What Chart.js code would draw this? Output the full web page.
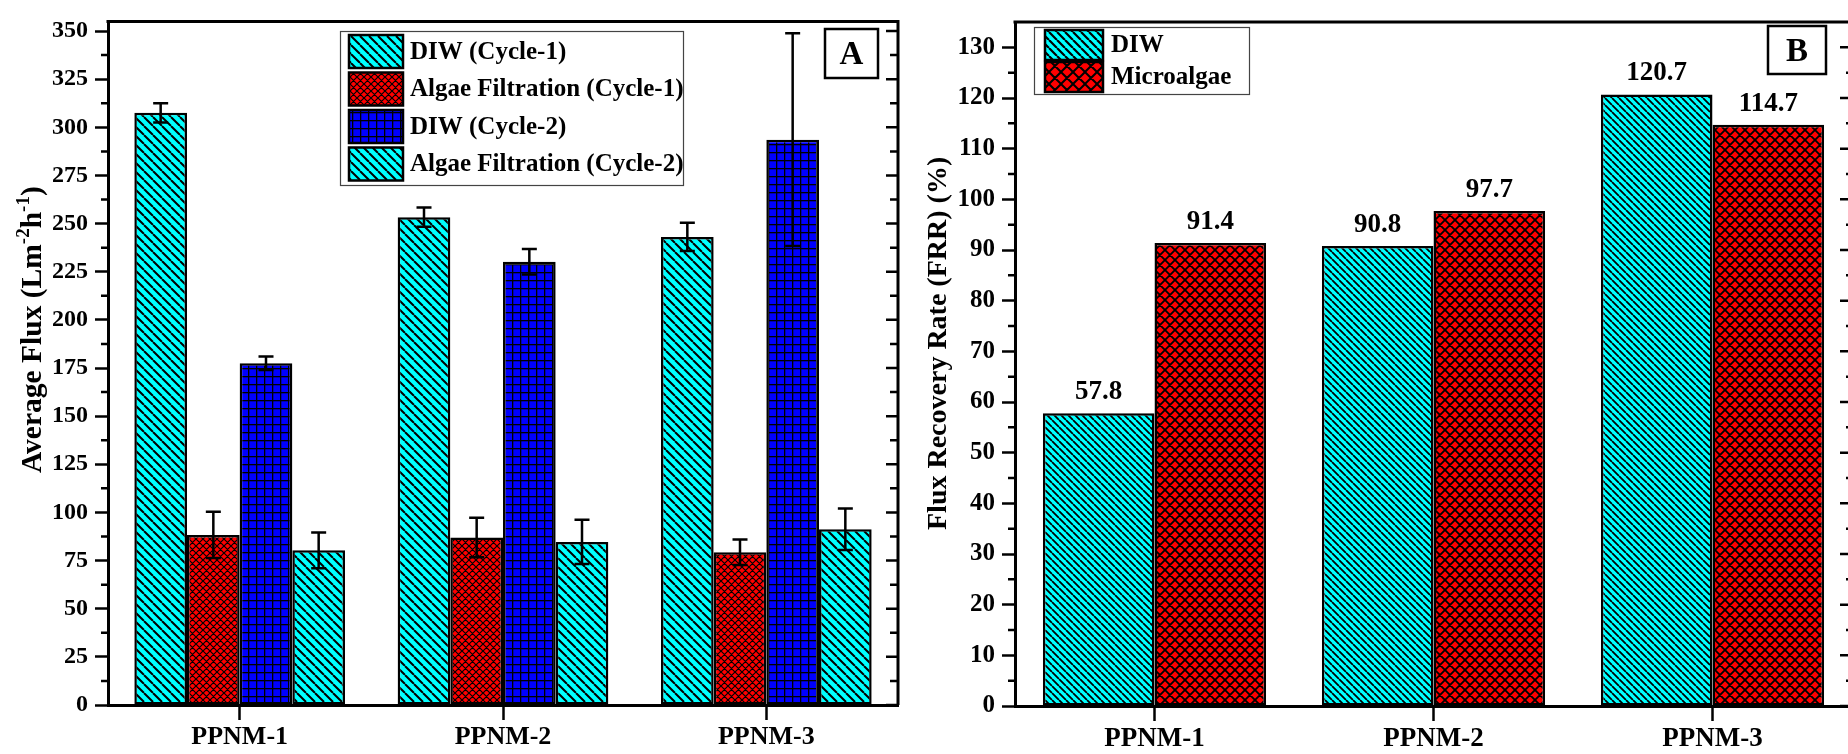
<!DOCTYPE html>
<html><head><meta charset="utf-8">
<script src="https://cdn.jsdelivr.net/npm/chart.js@4.4.1/dist/chart.umd.min.js"></script>
<style>
html,body{margin:0;padding:0;background:#fff;overflow:hidden;width:1848px;height:754px;}
#wa{position:absolute;left:0;top:0;width:905px;height:754px;}
#wb{position:absolute;left:905px;top:0;width:955px;height:754px;}
canvas{display:block;}
</style></head><body>
<div id="wa"><canvas id="ca" width="905" height="754"></canvas></div>
<div id="wb"><canvas id="cb" width="955" height="754"></canvas></div>
<script>
// ---------------- data ----------------
const categories = ['PPNM-1', 'PPNM-2', 'PPNM-3'];

// Panel A : average flux
const seriesA = ['DIW (Cycle-1)', 'Algae Filtration (Cycle-1)', 'DIW (Cycle-2)', 'Algae Filtration (Cycle-2)'];
const diwCycle1 = [307.5, 253.3, 243.1];
const diwCycle1Err = [5.0, 5.0, 7.3];
const algaeCycle1 = [88.3, 87.0, 79.3];
const algaeCycle1Err = [12.0, 10.3, 6.6];
const diwCycle2 = [177.5, 230.2, 293.6];
const diwCycle2Err = [3.5, 6.6, 55.2];
const algaeCycle2 = [80.3, 84.7, 91.3];
const algaeCycle2Err = [9.3, 11.5, 10.8];
const yTicksA = [0, 25, 50, 75, 100, 125, 150, 175, 200, 225, 250, 275, 300, 325, 350];
const yMaxA = 355;
const yTitleA = [['Average Flux (Lm', false], ['-2', true], ['h', false], ['-1', true], [')', false]];

// Panel B : flux recovery rate
const seriesB = ['DIW', 'Microalgae'];
const frrDIW = [57.8, 90.8, 120.7];
const frrMicroalgae = [91.4, 97.7, 114.7];
const yTicksB = [0, 10, 20, 30, 40, 50, 60, 70, 80, 90, 100, 110, 120, 130];
const yMaxB = 135;
const yTitleB = [['Flux Recovery Rate (FRR) (%)', false]];

// ---------------- helpers ----------------
const FF = '"Liberation Serif", "Times New Roman", serif';
function pattern(ctx, kind, bg, p, lw) {
  const c = document.createElement('canvas'); c.width = p; c.height = p;
  const g = c.getContext('2d');
  g.fillStyle = bg; g.fillRect(0, 0, p, p);
  g.strokeStyle = '#000'; g.fillStyle = '#000'; g.lineWidth = lw;
  g.beginPath();
  if (kind === 'back' || kind === 'cross') {
    for (let k = -1; k <= 1; k++) { g.moveTo(k * p, 0); g.lineTo(k * p + p, p); }
  }
  if (kind === 'cross') {
    for (let k = -1; k <= 1; k++) { g.moveTo(k * p, p); g.lineTo(k * p + p, 0); }
  }
  g.stroke();
  if (kind === 'grid') { g.fillRect(0, 0, p, lw); g.fillRect(0, 0, lw, p); }
  return ctx.createPattern(c, 'repeat');
}

const decor = {
  id: 'decor',
  afterDatasetsDraw(chart) {
    const cfg = chart.options.plugins.decor, ctx = chart.ctx, y = chart.scales.y;
    chart.data.datasets.forEach((ds, i) => {
      const meta = chart.getDatasetMeta(i);
      meta.data.forEach((el, j) => {
        const v = ds.data[j];
        if (ds.errorBars) {
          const e = ds.errorBars[j];
          const yt = y.getPixelForValue(v + e), yb = y.getPixelForValue(v - e);
          ctx.save(); ctx.strokeStyle = '#000'; ctx.lineWidth = 2.5; ctx.lineCap = 'butt';
          ctx.beginPath();
          ctx.moveTo(el.x, yt); ctx.lineTo(el.x, yb);
          ctx.moveTo(el.x - 7.5, yt); ctx.lineTo(el.x + 7.5, yt);
          ctx.moveTo(el.x - 7.5, yb); ctx.lineTo(el.x + 7.5, yb);
          ctx.stroke(); ctx.restore();
        }
        if (cfg.valueLabels) {
          ctx.save(); ctx.fillStyle = '#000'; ctx.font = 'bold ' + cfg.valueFont + 'px ' + FF;
          ctx.textAlign = 'center'; ctx.textBaseline = 'alphabetic';
          ctx.fillText(v.toFixed(1), el.x, el.y - 14);
          ctx.restore();
        }
      });
    });
  },
  afterDraw(chart) {
    const cfg = chart.options.plugins.decor, ctx = chart.ctx, y = chart.scales.y;
    const a = chart.chartArea;
    ctx.save();
    ctx.strokeStyle = '#000'; ctx.fillStyle = '#000';
    // frame top & right
    ctx.lineWidth = 3;
    ctx.beginPath();
    ctx.moveTo(a.left - 1.5, a.top); ctx.lineTo(a.right + 1.5, a.top);
    ctx.moveTo(a.right, a.top); ctx.lineTo(a.right, a.bottom);
    ctx.stroke();
    // minor ticks left (outward) + mirror ticks right (inward)
    const ticks = cfg.ticks;
    ctx.lineWidth = 2.5;
    ctx.beginPath();
    for (let i = 0; i < ticks.length; i++) {
      const py = y.getPixelForValue(ticks[i]);
      ctx.moveTo(a.right, py); ctx.lineTo(a.right - 12, py);
      if (i < ticks.length - 1) {
        const m = y.getPixelForValue((ticks[i] + ticks[i + 1]) / 2);
        ctx.moveTo(a.left, m); ctx.lineTo(a.left - 7, m);
        ctx.moveTo(a.right, m); ctx.lineTo(a.right - cfg.minorIn, m);
      }
    }
    ctx.stroke();
    // legend
    const L = cfg.legend;
    ctx.fillStyle = '#fff';
    ctx.fillRect(L.x, L.y, L.w, L.h);
    ctx.lineWidth = 1.2; ctx.strokeStyle = '#444';
    ctx.strokeRect(L.x + 0.5, L.y + 0.5, L.w, L.h);
    ctx.font = 'bold ' + L.font + 'px ' + FF;
    ctx.textBaseline = 'middle'; ctx.textAlign = 'left';
    chart.data.datasets.forEach((ds, i) => {
      const top = L.rowTop + i * L.rowStep;
      ctx.fillStyle = L.fills[i];
      ctx.fillRect(L.sx, top, L.sw, L.sh);
      ctx.lineWidth = 2.5; ctx.strokeStyle = '#000';
      ctx.strokeRect(L.sx, top, L.sw, L.sh);
      ctx.fillStyle = '#000';
      ctx.fillText(ds.label, L.tx, top + L.sh / 2 + 1);
    });
    // panel letter box
    const P = cfg.letter;
    ctx.fillStyle = '#fff'; ctx.fillRect(P.x, P.y, P.w, P.h);
    ctx.lineWidth = 2.5; ctx.strokeStyle = '#000'; ctx.strokeRect(P.x, P.y, P.w, P.h);
    ctx.fillStyle = '#000'; ctx.font = 'bold ' + P.font + 'px ' + FF;
    ctx.textAlign = 'center'; ctx.textBaseline = 'alphabetic';
    ctx.fillText(P.text, P.x + P.w / 2, P.y + P.h / 2 + P.font * 0.33);
    // y title (rotated, with superscripts)
    const T = cfg.yTitle;
    ctx.translate(T.x, T.y); ctx.rotate(-Math.PI / 2);
    ctx.textAlign = 'left'; ctx.textBaseline = 'middle';
    let cx = 0;
    T.parts.forEach(([txt, sup]) => {
      const fs = sup ? Math.round(T.font * 0.65) : T.font;
      ctx.font = 'bold ' + fs + 'px ' + FF;
      ctx.fillText(txt, cx, sup ? -T.font * 0.3 : 0);
      cx += ctx.measureText(txt).width;
    });
    ctx.restore();
  }
};

function makeChart(id, datasets, yTicks, yMax, opts) {
  const el = document.getElementById(id);
  return new Chart(el, {
    type: 'bar',
    data: { labels: categories, datasets },
    options: {
      responsive: false, animation: false, devicePixelRatio: 1,
      layout: { padding: { left: 0, top: opts.top, right: opts.right, bottom: 0 } },
      datasets: { bar: { categoryPercentage: 0.8, barPercentage: 1.0, borderWidth: 2.5, borderColor: '#000', borderSkipped: false } },
      plugins: { legend: { display: false }, tooltip: { enabled: false }, decor: opts.decor },
      scales: {
        x: {
          type: 'category',
          grid: { display: true, drawOnChartArea: false, drawTicks: true, tickLength: 15, tickWidth: 2.5, tickColor: '#000', offset: false },
          border: { display: true, width: 3, color: '#000' },
          ticks: { color: '#000', font: { family: FF, weight: 'bold', size: opts.xFont }, padding: opts.xPad },
          afterFit: s => { s.height = opts.xH; }
        },
        y: {
          min: 0, max: yMax,
          afterBuildTicks: s => { s.ticks = yTicks.map(v => ({ value: v })); },
          grid: { display: true, drawOnChartArea: false, drawTicks: true, tickLength: 13, tickWidth: 2.5, tickColor: '#000' },
          border: { display: true, width: 3, color: '#000' },
          ticks: { color: '#000', font: { family: FF, weight: 'bold', size: opts.yFont }, padding: 7 },
          afterFit: s => { s.width = opts.yW; }
        }
      }
    },
    plugins: [decor]
  });
}

// ---------------- panel A ----------------
const ctxA = document.getElementById('ca').getContext('2d');
const cyanA = pattern(ctxA, 'back', '#00FFFF', 9, 2.0);
const redA = pattern(ctxA, 'cross', '#FF0000', 7, 1.2);
const blueA = pattern(ctxA, 'grid', '#0000FF', 8, 1.3);
const fillsA = [cyanA, redA, blueA, cyanA];
const valsA = [diwCycle1, algaeCycle1, diwCycle2, algaeCycle2];
const errsA = [diwCycle1Err, algaeCycle1Err, diwCycle2Err, algaeCycle2Err];
makeChart('ca', seriesA.map((name, i) => ({
  label: name, data: valsA[i], errorBars: errsA[i], backgroundColor: fillsA[i]
})), yTicksA, yMaxA, {
  top: 13, right: 7, xH: 49, yW: 108, xFont: 26, yFont: 24, xPad: 2,
  decor: {
    ticks: yTicksA, minorIn: 8, valueLabels: false,
    legend: { x: 340, y: 31, w: 343, h: 154, font: 25, fills: fillsA,
      sx: 349, sw: 54, sh: 33, rowTop: 35, rowStep: 37.5, tx: 410 },
    letter: { x: 825, y: 29, w: 53, h: 49, text: 'A', font: 33 },
    yTitle: { x: 33, y: 473, font: 29.5, parts: yTitleA }
  }
});

// ---------------- panel B ----------------
const ctxB = document.getElementById('cb').getContext('2d');
const cyanB = pattern(ctxB, 'back', '#00FFFF', 7, 1.8);
const redB = pattern(ctxB, 'cross', '#FF0000', 10, 1.8);
const cyanBL = pattern(ctxB, 'back', '#00FFFF', 8, 2.2);
const redBL = pattern(ctxB, 'cross', '#FF0000', 12, 2.0);
const valsB = [frrDIW, frrMicroalgae];
const fillsB = [cyanB, redB];
makeChart('cb', seriesB.map((name, i) => ({
  label: name, data: valsB[i], backgroundColor: fillsB[i]
})), yTicksB, yMaxB, {
  top: 12, right: 8, xH: 48, yW: 110, xFont: 27, yFont: 25, xPad: 2,
  decor: {
    ticks: yTicksB, minorIn: 6, valueLabels: true, valueFont: 27,
    legend: { x: 129, y: 27, w: 215, h: 67, font: 25, fills: [cyanBL, redBL],
      sx: 140, sw: 58, sh: 30, rowTop: 30, rowStep: 32, tx: 206 },
    letter: { x: 863, y: 26, w: 58, h: 48, text: 'B', font: 33 },
    yTitle: { x: 34, y: 530, font: 28, parts: yTitleB }
  }
});
</script>
</body></html>
